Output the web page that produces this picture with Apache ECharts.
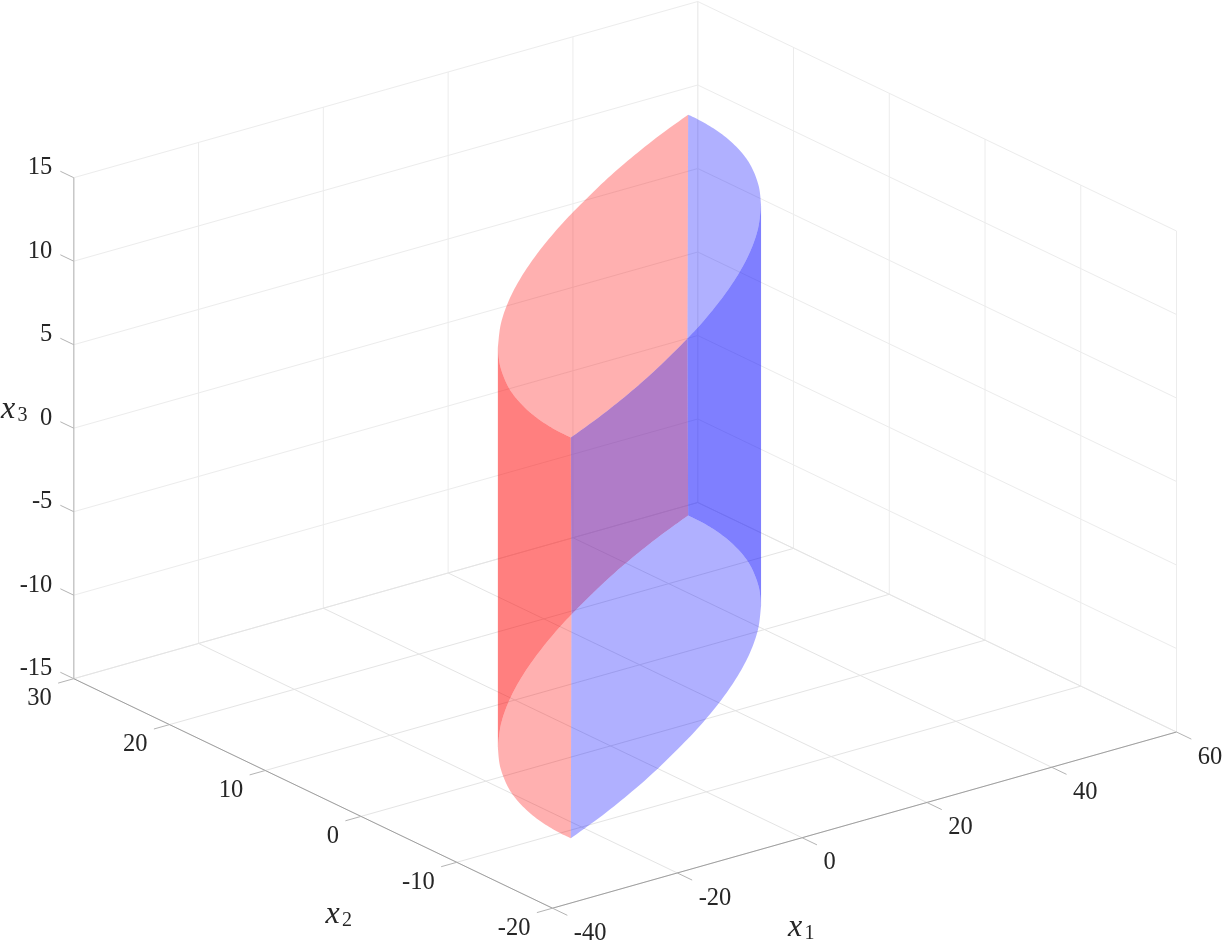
<!DOCTYPE html>
<html>
<head>
<meta charset="utf-8">
<style>html,body{margin:0;padding:0;background:#fff}#c{width:1222px;height:942px}</style>
<script src="https://cdn.jsdelivr.net/npm/echarts@6/dist/echarts.min.js"></script>
</head>
<body>
<div id="c"></div>
<script>
// ---- axis ticks ----
const x1Ticks = [-40, -20, 0, 20, 40, 60];
const x2Ticks = [-20, -10, 0, 10, 20, 30];
const x3Ticks = [-15, -10, -5, 0, 5, 10, 15];
// ---- solid: lens outline (x1, x2), extruded between two x3 levels ----
const x3Low = -12;
const x3High = 12;
const nwA_x1 = [45.77, 37.67, 29.86, 22.33, 13.17];
const nwA_x2 = [21.73, 19.78, 17.71, 15.54, 12.67];
const nwB_x1 = [13.17, 7.98, 1.19, -5.29, -11.41, -17.11, -22.30];
const nwB_x2 = [12.67, 10.93, 8.47, 5.90, 3.19, 0.31, -2.76];
const sw_x1 = [-22.30, -25.91, -29.07, -31.07, -32.64, -33.52, -33.94, -34.00];
const sw_x2 = [-2.76, -5.33, -8.07, -10.27, -12.63, -14.67, -16.48, -18.00];
const seA_x1 = [-34.00, -25.90, -18.09, -10.56, -1.40];
const seA_x2 = [-18.00, -16.05, -13.98, -11.81, -8.94];
const seB_x1 = [-1.40, 3.79, 10.58, 17.06, 23.18, 28.88, 34.07];
const seB_x2 = [-8.94, -7.20, -4.74, -2.17, 0.54, 3.42, 6.49];
const ne_x1 = [34.07, 37.68, 40.84, 42.84, 44.41, 45.29, 45.71, 45.77];
const ne_x2 = [6.49, 9.06, 11.80, 14.00, 16.36, 18.40, 20.21, 21.73];

// ---- view of the 3D box on the hidden 2D axes ----
const view = {ox: 552.5, oy: 908.2, x1: [6.24, -1.762], x2: [-9.575, -4.59], x3: [0, -16.7]};
function project(a, b, c) {
  const u = a - x1Ticks[0], v = b - x2Ticks[0], w = c - x3Ticks[0];
  return [view.ox + u * view.x1[0] + v * view.x2[0],
          view.oy + u * view.x1[1] + v * view.x2[1] + w * view.x3[1]];
}
const min1 = x1Ticks[0], max1 = x1Ticks[x1Ticks.length - 1];
const min2 = x2Ticks[0], max2 = x2Ticks[x2Ticks.length - 1];
const min3 = x3Ticks[0], max3 = x3Ticks[x3Ticks.length - 1];

// ---- straight 3D segments ----
const FONT = '"Liberation Serif", serif';
function seg(a, b) { return project(a[0], a[1], a[2]).concat(project(b[0], b[1], b[2])); }
const wallLines = [], floorLines = [], axisLines = [], tickLines = [], x3AxisLines = [];
x1Ticks.forEach(t => {
  wallLines.push(seg([t, max2, min3], [t, max2, max3]));
  floorLines.push(seg([t, min2, min3], [t, max2, min3]));
  tickLines.push(seg([t, min2, min3], [t, min2 - 1.55, min3]));
});
x2Ticks.forEach(t => {
  wallLines.push(seg([max1, t, min3], [max1, t, max3]));
  floorLines.push(seg([min1, t, min3], [max1, t, min3]));
  tickLines.push(seg([min1, t, min3], [min1 - 2.5, t, min3]));
});
x3Ticks.forEach(t => {
  wallLines.push(seg([min1, max2, t], [max1, max2, t]));
  wallLines.push(seg([max1, max2, t], [max1, min2, t]));
  tickLines.push(seg([min1, max2, t], [min1, max2 + 1.4, t]));
});
axisLines.push(seg([min1, min2, min3], [max1, min2, min3]));
axisLines.push(seg([min1, min2, min3], [min1, max2, min3]));
x3AxisLines.push(seg([min1, max2, min3], [min1, max2, max3]));

function lineSeries(rows, color, width, z) {
  return {
    type: 'custom', coordinateSystem: 'cartesian2d', silent: true, clip: false, z: z,
    data: rows, encode: {x: [0, 2], y: [1, 3]},
    renderItem: (p, api) => {
      const s = api.coord([api.value(0), api.value(1)]);
      const e = api.coord([api.value(2), api.value(3)]);
      return {type: 'line', shape: {x1: s[0], y1: s[1], x2: e[0], y2: e[1]},
              style: {stroke: color, lineWidth: width, fill: null}};
    }
  };
}

// ---- curved outlines: spline through read points, in screen space ----
function arc(xs, ys, level) {
  const pts = xs.map((x, i) => project(x, ys[i], level));
  const out = [];
  for (let i = 0; i < pts.length - 1; i++) {
    const p0 = pts[Math.max(i - 1, 0)], p1 = pts[i], p2 = pts[i + 1], p3 = pts[Math.min(i + 2, pts.length - 1)];
    for (let k = 0; k < 8; k++) {
      const t = k / 8, t2 = t * t, t3 = t2 * t;
      out.push([0, 1].map(d => 0.5 * (2 * p1[d] + (p2[d] - p0[d]) * t +
        (2 * p0[d] - 5 * p1[d] + 4 * p2[d] - p3[d]) * t2 + (3 * p1[d] - p0[d] - 3 * p2[d] + p3[d]) * t3)));
    }
  }
  out.push(pts[pts.length - 1]);
  return out;
}
const T = x3High, B = x3Low;
const faces = [
  // top cap
  {fill: 'rgba(255,0,0,0.31)', parts: [[nwA_x1, nwA_x2, T], [nwB_x1, nwB_x2, T], [sw_x1, sw_x2, T], [seA_x1, seA_x2, T]]},
  {fill: 'rgba(0,0,255,0.31)', parts: [[seB_x1, seB_x2, T], [ne_x1, ne_x2, T]]},
  // walls
  {fill: 'rgba(255,0,0,0.5)', parts: [[sw_x1, sw_x2, T], [nwB_x1, nwB_x2, B]]},
  {fill: 'rgba(123,37,163,0.6)', parts: [[seA_x1, seA_x2, T], [nwA_x1, nwA_x2, B]]},
  {fill: 'rgba(0,0,255,0.5)', parts: [[seB_x1, seB_x2, T], [ne_x1, ne_x2, B]]},
  // bottom cap
  {fill: 'rgba(255,0,0,0.31)', parts: [[nwB_x1, nwB_x2, B], [sw_x1, sw_x2, B]]},
  {fill: 'rgba(0,0,255,0.31)', parts: [[seA_x1, seA_x2, B], [seB_x1, seB_x2, B], [ne_x1, ne_x2, B], [nwA_x1, nwA_x2, B]]}
];
const faceSeries = {
  type: 'custom', coordinateSystem: 'cartesian2d', silent: true, clip: false, z: 5,
  data: faces.map((f, i) => [i, 0]),
  renderItem: (p, api) => {
    const f = faces[p.dataIndex];
    const pts = [];
    f.parts.forEach(q => arc(q[0], q[1], q[2]).forEach(c => pts.push(api.coord(c))));
    return {type: 'polygon', shape: {points: pts}, style: {fill: f.fill, stroke: null}};
  }
};

// ---- text ----
const labels = [];
x1Ticks.forEach(t => { const q = project(t, min2 - 1.55, min3);
  labels.push([q[0] + 6.5, q[1] + 18, String(t), 'left']); });
x2Ticks.forEach(t => { const q = project(min1 - 2.5, t, min3);
  labels.push([q[0] - 6.5, q[1] + 15.5, String(t), 'right']); });
x3Ticks.forEach(t => { const q = project(min1, max2 + 1.4, t);
  labels.push([q[0] - 8, q[1] - 3.5, String(t), 'right']); });
const labelSeries = {
  type: 'custom', coordinateSystem: 'cartesian2d', silent: true, clip: false, z: 10,
  data: labels, encode: {x: 0, y: 1},
  renderItem: (p, api) => {
    const c = api.coord([labels[p.dataIndex][0], labels[p.dataIndex][1]]);
    return {type: 'text', x: c[0], y: c[1], style: {text: labels[p.dataIndex][2], align: labels[p.dataIndex][3],
      verticalAlign: 'middle', fill: '#262626', font: '24.5px ' + FONT}};
  }
};
const titleVar = ['x', 'x', 'x'];
const titleSub = ['1', '2', '3'];
const titleAt = [[788, 928], [325.5, 915], [1, 410]];
const titleSeries = {
  type: 'custom', coordinateSystem: 'cartesian2d', silent: true, clip: false, z: 10,
  data: titleAt, encode: {x: 0, y: 1},
  renderItem: (p, api) => {
    const i = p.dataIndex;
    const c = api.coord(titleAt[i]);
    return {type: 'group', children: [
      {type: 'text', x: c[0], y: c[1], style: {text: titleVar[i], align: 'left', verticalAlign: 'middle',
        fill: '#262626', font: 'italic 32px ' + FONT}},
      {type: 'text', x: c[0] + 16.5, y: c[1] + 6, style: {text: titleSub[i], align: 'left', verticalAlign: 'middle',
        fill: '#262626', font: '20px ' + FONT}}
    ]};
  }
};

const chart = echarts.init(document.getElementById('c'), null, {width: 1222, height: 942, renderer: 'canvas'});
chart.setOption({
  animation: false,
  backgroundColor: '#ffffff',
  grid: {left: 0, right: 0, top: 0, bottom: 0},
  xAxis: {type: 'value', min: 0, max: 1222, show: false},
  yAxis: {type: 'value', min: 0, max: 942, inverse: true, show: false},
  series: [
    lineSeries(wallLines, '#ececec', 1, 1),
    lineSeries(floorLines, '#e4e4e4', 1, 1),
    lineSeries(x3AxisLines, '#c6c6c6', 1.4, 2),
    lineSeries(axisLines, '#a0a0a0', 1, 2),
    lineSeries(tickLines, '#b4b4b4', 1, 2),
    faceSeries,
    labelSeries,
    titleSeries
  ]
});
</script>
</body>
</html>
